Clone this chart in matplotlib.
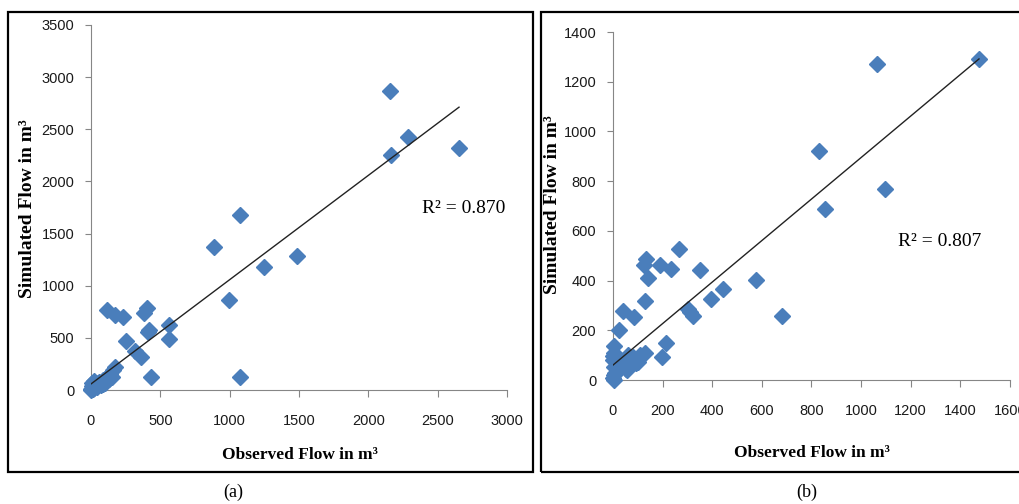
import matplotlib
matplotlib.use('agg')
import matplotlib.pyplot as plt
from matplotlib.patches import Rectangle
import numpy as np

# panel (a) observed vs simulated flow
obs_a = [2155, 2287, 2160, 2654, 1075, 890, 1483, 1250, 996, 1075, 115, 175, 228, 379, 403,
         420, 410, 252, 564, 559, 319, 362, 432, 175, 151, 160, 140, 130, 110, 100, 85, 70,
         60, 45, 30, 20, 20, 10, 5, 0, 0, 40, 120, 90, 50, 15]
sim_a = [2870, 2423, 2250, 2317, 1678, 1371, 1285, 1183, 863, 128, 767, 719, 703, 741, 783,
         575, 560, 467, 623, 486, 377, 320, 128, 224, 128, 190, 150, 110, 90, 70, 100, 50,
         80, 30, 55, 20, 90, 70, 40, 10, 0, 60, 130, 60, 70, 5]
trend_a = [1.00, 58]      # slope, intercept of trend line
r2_a = '0.870'

# panel (b)
obs_b = [1475, 1062, 831, 1096, 856, 575, 682, 442, 394, 352, 266, 235, 191, 134, 125, 141,
         129, 302, 312, 323, 215, 199, 40, 83, 24, 3, 128, 94, 51, 81, 4, 2, 5, 3, 5, 40,
         56, 68, 101, 0, 8, 2, 60, 110]
sim_b = [1291, 1271, 923, 768, 687, 403, 258, 365, 326, 443, 526, 446, 463, 486, 463, 412,
         318, 286, 272, 259, 148, 94, 278, 255, 201, 137, 107, 70, 43, 94, 108, 80, 52, 20,
         0, 68, 40, 88, 72, 10, 30, 95, 100, 100]
trend_b = [0.835, 60]
r2_b = '0.807'

xticks_a = [0, 500, 1000, 1500, 2000, 2500, 3000]
yticks_a = [0, 500, 1000, 1500, 2000, 2500, 3000, 3500]
xticks_b = [0, 200, 400, 600, 800, 1000, 1200, 1400, 1600]
yticks_b = [0, 200, 400, 600, 800, 1000, 1200, 1400]

W, H = 1020, 504
fig = plt.figure(figsize=(W / 100, H / 100), dpi=100)

def px(x0, y0, x1, y1):
    # pixel box (top-left origin) -> figure fraction rect
    return [x0 / W, 1 - y1 / H, (x1 - x0) / W, (y1 - y0) / H]

blue = '#4a7ebb'
serif = 'Liberation Serif'
sans = 'Liberation Sans'

def panel(rect, obs, sim, trend, r2, xt, yt, r2pos, label_x, label_y):
    ax = fig.add_axes(rect)
    ax.plot(obs, sim, 'D', color=blue, ms=8, mec=blue, zorder=3, clip_on=False)
    xs = np.array([0, max(obs)])
    ax.plot(xs, trend[0] * xs + trend[1], color='#222222', lw=1, zorder=4)
    ax.set_xlim(xt[0], xt[-1])
    ax.set_ylim(yt[0], yt[-1])
    ax.set_xticks(xt)
    ax.set_yticks(yt)
    for s in ['top', 'right']:
        ax.spines[s].set_visible(False)
    for s in ['left', 'bottom']:
        ax.spines[s].set_color('#868686')
    ax.tick_params(axis='x', direction='out', length=5, color='#868686', pad=12)
    ax.tick_params(axis='y', direction='out', length=4, color='#868686', pad=8)
    for t in ax.get_xticklabels() + ax.get_yticklabels():
        t.set_fontfamily(sans)
        t.set_fontsize(10.5)
        t.set_color('#1a1a1a')
    ax.text(r2pos[0], r2pos[1], 'R² = ' + r2, family=serif, fontsize=14,
            ha='left', va='center')
    fig.text(label_x[0] / W, 1 - label_x[1] / H, 'Observed Flow in m³', family=serif,
             fontweight='bold', fontsize=12.5, ha='center', va='center')
    fig.text(label_y[0] / W, 1 - label_y[1] / H, 'Simulated Flow in m³', family=serif,
             fontweight='bold', fontsize=14, ha='center', va='center', rotation=90)
    return ax

panel(px(91, 25, 507, 390), obs_a, sim_a, trend_a, r2_a, xticks_a, yticks_a,
      (2390, 1745), (300, 455), (28, 209))
panel(px(613, 32, 1010, 380), obs_b, sim_b, trend_b, r2_b, xticks_b, yticks_b,
      (1150, 559), (812, 453), (553, 205))

# outer frames
for box in [(8, 12, 533, 472), (541, 12, 1024, 472)]:
    r = px(*box)
    fig.patches.append(Rectangle((r[0], r[1]), r[2], r[3], transform=fig.transFigure,
                                 fill=False, edgecolor='black', lw=1.6))

fig.text(233 / W, 1 - 492 / H, '(a)', family=serif, fontsize=13, ha='center', va='center')
fig.text(807 / W, 1 - 492 / H, '(b)', family=serif, fontsize=13, ha='center', va='center')

fig.savefig('out.png', dpi=100)
